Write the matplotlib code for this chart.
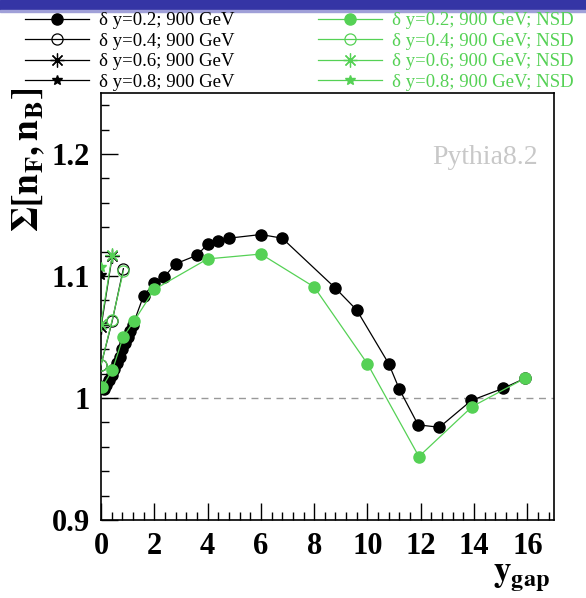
import matplotlib
matplotlib.use("Agg")
import matplotlib.pyplot as plt
from matplotlib.patches import Rectangle
from matplotlib.ticker import MultipleLocator

plt.rcParams['font.family'] = ['Liberation Serif', 'DejaVu Serif']
plt.rcParams['mathtext.fontset'] = 'stix'

green = '#55d155'

# delta y = 0.2, 900 GeV (all events)
x_d02 = [0.1, 0.2, 0.3, 0.4, 0.5, 0.6, 0.7, 0.8, 0.9, 1.0, 1.1, 1.2, 1.6, 2.0, 2.36, 2.8,
         3.6, 4.0, 4.4, 4.8, 6.0, 6.8, 8.8, 9.6, 10.8, 11.2, 11.9, 12.7, 13.9, 15.1, 15.9]
y_d02 = [1.007, 1.011, 1.015, 1.019, 1.024, 1.029, 1.034, 1.040, 1.045, 1.050, 1.055, 1.060,
         1.084, 1.094, 1.099, 1.110, 1.117, 1.126, 1.129, 1.131, 1.134, 1.131, 1.090, 1.072,
         1.028, 1.007, 0.978, 0.976, 0.998, 1.008, 1.016]
# delta y = 0.4 / 0.6 / 0.8
x_d04 = [0.0, 0.42, 0.84]
y_d04 = [1.027, 1.063, 1.106]
x_d06 = [0.0, 0.42]
y_d06 = [1.058, 1.116]
x_d08 = [0.0]
y_d08 = [1.101]

# NSD
x_nsd02 = [0.05, 0.43, 0.83, 1.24, 2.0, 4.0, 6.0, 8.0, 10.0, 11.93, 13.93, 15.9]
y_nsd02 = [1.009, 1.023, 1.050, 1.063, 1.089, 1.114, 1.118, 1.091, 1.028, 0.952, 0.993, 1.016]
x_nsd04 = [0.0, 0.42, 0.84]
y_nsd04 = [1.027, 1.064, 1.104]
x_nsd06 = [0.0, 0.42]
y_nsd06 = [1.061, 1.117]
x_nsd08 = [0.0]
y_nsd08 = [1.107]

fig = plt.figure(figsize=(5.86, 5.98), dpi=100)
ax = fig.add_axes([101/586, 1-520/598, 453/586, 427/598])

fig.patches.append(Rectangle((0, 1-10/598), 1, 10/598, transform=fig.transFigure,
                             color='#3535a5', zorder=0))
fig.patches.append(Rectangle((0, 1-12/598), 1, 2/598, transform=fig.transFigure,
                             color='#a0a0d8', zorder=0))

ax.axhline(1.0, color='#999999', lw=1, ls=(0, (5, 4)), zorder=1)

ms = 8
l1, = ax.plot(x_d02, y_d02, '-', color='black', lw=0.9, marker='o', ms=ms, zorder=4)
l2, = ax.plot(x_d04, y_d04, '-', color='black', lw=0.9, marker='o', ms=ms,
              mfc='none', mew=0.9, zorder=4)
l3, = ax.plot(x_d06, y_d06, '-', color='black', lw=0.9, marker=(8, 2, 0), ms=10,
              mew=0.9, zorder=4)
l4, = ax.plot(x_d08, y_d08, '-', color='black', lw=0.9, marker='*', ms=7, zorder=4)

g1, = ax.plot(x_nsd02, y_nsd02, '-', color=green, lw=0.9, marker='o', ms=ms, zorder=5)
g2, = ax.plot(x_nsd04, y_nsd04, '-', color=green, lw=0.9, marker='o', ms=ms,
              mfc='none', mew=0.9, zorder=5)
g3, = ax.plot(x_nsd06, y_nsd06, '-', color=green, lw=0.9, marker=(8, 2, 0), ms=10,
              mew=0.9, zorder=5)
g4, = ax.plot(x_nsd08, y_nsd08, '-', color=green, lw=0.9, marker='*', ms=7, zorder=5)

ax.set_xlim(0, 17)
ax.set_ylim(0.9, 1.25)
ax.xaxis.set_major_locator(MultipleLocator(2))
ax.xaxis.set_minor_locator(MultipleLocator(0.4))
ax.yaxis.set_major_locator(MultipleLocator(0.1))
ax.yaxis.set_minor_locator(MultipleLocator(0.02))
ax.tick_params(which='both', direction='in', top=False, right=False)
ax.tick_params(which='major', length=12, width=1)
ax.tick_params(which='minor', length=6, width=1)
ax.tick_params(axis='x', pad=9)
ax.tick_params(axis='y', pad=8)
ax.xaxis.set_major_formatter(plt.FuncFormatter(lambda v, p: '%g' % v))
ax.yaxis.set_major_formatter(plt.FuncFormatter(lambda v, p: '%g' % round(v, 2)))
for lab in ax.get_xticklabels() + ax.get_yticklabels():
    lab.set_fontsize(22)
    lab.set_fontweight('bold')
for sp in ax.spines.values():
    sp.set_linewidth(1.2)

ax.text(0.965, 0.848, 'Pythia8.2', transform=ax.transAxes, ha='right', va='center',
        fontsize=20, color='#c8c8c8')

fig.text(29/586, 1-160/598, r'$\mathbf{\Sigma[n_{F},n_{B}]}$', rotation=90,
         ha='center', va='center', fontsize=27)
fig.text(522/586, 1-577/598, r'$\mathbf{y_{gap}}$', ha='center', va='center', fontsize=25)

leg1 = fig.legend([l1, l2, l3, l4],
                  ['δ y=0.2; 900 GeV', 'δ y=0.4; 900 GeV', 'δ y=0.6; 900 GeV', 'δ y=0.8; 900 GeV'],
                  loc='upper left', bbox_to_anchor=(25/586, 1-12/598), frameon=False,
                  fontsize=13.5, handlelength=3.4, handletextpad=0.55, labelspacing=0.18,
                  borderpad=0, borderaxespad=0, markerscale=1.0)
leg2 = fig.legend([g1, g2, g3, g4],
                  ['δ y=0.2; 900 GeV; NSD', 'δ y=0.4; 900 GeV; NSD',
                   'δ y=0.6; 900 GeV; NSD', 'δ y=0.8; 900 GeV; NSD'],
                  loc='upper left', bbox_to_anchor=(318/586, 1-12/598), frameon=False,
                  fontsize=13.5, handlelength=3.4, handletextpad=0.55, labelspacing=0.18,
                  borderpad=0, borderaxespad=0, markerscale=1.0, labelcolor=green)

fig.savefig('out.png', dpi=100)
